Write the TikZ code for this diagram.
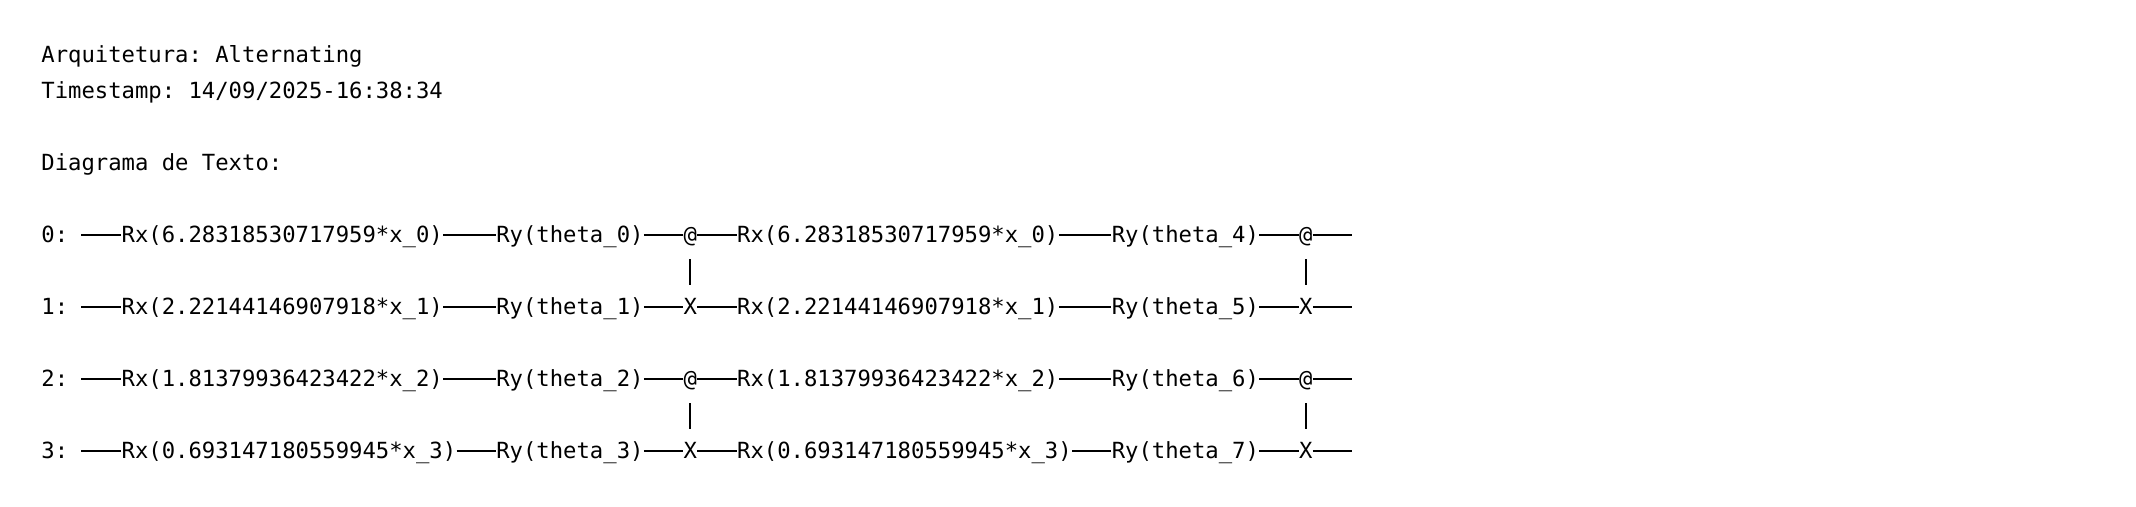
\documentclass[tikz,border=0pt]{standalone}
\usepackage{fontspec}
\setmonofont{DejaVu Sans Mono}
\tikzset{
  gatetext/.style={anchor=west, inner sep=0pt, text height=10.2pt, text depth=2.3pt, font=\ttfamily\fontsize{11.115}{13}\selectfont, text=black},
  wire/.style={line width=0.75pt, black},
  ctrlwire/.style={line width=0.85pt, black, shorten >=4.5pt, shorten <=5.7pt}
}
\begin{document}
\begin{tikzpicture}[x=6.69pt, y=-18pt]
            \useasboundingbox (-3.064, -1.53) rectangle (156.58, 12.553);

            % header lines
            \node[gatetext] (arch) at (0, 0) {Arquitetura: Alternating};
            \node[gatetext] (stamp) at (0, 1) {Timestamp: 14/09/2025-16:38:34};
            \node[gatetext] (title) at (0, 3) {Diagrama de Texto:};

            % qubit 0
            \node[gatetext] (q0) at (0, 5) {0:}; \coordinate (in0) at (3, 5);
            \node[gatetext] (rxa0) at (6, 5) {Rx(6.28318530717959*x\_0)};
            \node[gatetext] (rya0) at (34, 5) {Ry(theta\_0)};
            \node[gatetext] (cza0) at (48, 5) {@};
            \node[gatetext] (rxb0) at (52, 5) {Rx(6.28318530717959*x\_0)};
            \node[gatetext] (ryb0) at (80, 5) {Ry(theta\_4)};
            \node[gatetext] (czb0) at (94, 5) {@}; \coordinate (out0) at (98, 5);

            % qubit 1
            \node[gatetext] (q1) at (0, 7) {1:}; \coordinate (in1) at (3, 7);
            \node[gatetext] (rxa1) at (6, 7) {Rx(2.22144146907918*x\_1)};
            \node[gatetext] (rya1) at (34, 7) {Ry(theta\_1)};
            \node[gatetext] (cza1) at (48, 7) {X};
            \node[gatetext] (rxb1) at (52, 7) {Rx(2.22144146907918*x\_1)};
            \node[gatetext] (ryb1) at (80, 7) {Ry(theta\_5)};
            \node[gatetext] (czb1) at (94, 7) {X}; \coordinate (out1) at (98, 7);

            % qubit 2
            \node[gatetext] (q2) at (0, 9) {2:}; \coordinate (in2) at (3, 9);
            \node[gatetext] (rxa2) at (6, 9) {Rx(1.81379936423422*x\_2)};
            \node[gatetext] (rya2) at (34, 9) {Ry(theta\_2)};
            \node[gatetext] (cza2) at (48, 9) {@};
            \node[gatetext] (rxb2) at (52, 9) {Rx(1.81379936423422*x\_2)};
            \node[gatetext] (ryb2) at (80, 9) {Ry(theta\_6)};
            \node[gatetext] (czb2) at (94, 9) {@}; \coordinate (out2) at (98, 9);

            % qubit 3
            \node[gatetext] (q3) at (0, 11) {3:}; \coordinate (in3) at (3, 11);
            \node[gatetext] (rxa3) at (6, 11) {Rx(0.693147180559945*x\_3)};
            \node[gatetext] (rya3) at (34, 11) {Ry(theta\_3)};
            \node[gatetext] (cza3) at (48, 11) {X};
            \node[gatetext] (rxb3) at (52, 11) {Rx(0.693147180559945*x\_3)};
            \node[gatetext] (ryb3) at (80, 11) {Ry(theta\_7)};
            \node[gatetext] (czb3) at (94, 11) {X}; \coordinate (out3) at (98, 11);

            % wires
            \draw[wire] (in0) -- (rxa0); \draw[wire] (rxa0) -- (rya0);
            \draw[wire] (rya0) -- (cza0); \draw[wire] (cza0) -- (rxb0);
            \draw[wire] (rxb0) -- (ryb0); \draw[wire] (ryb0) -- (czb0);
            \draw[wire] (czb0) -- (out0);
            \draw[wire] (in1) -- (rxa1); \draw[wire] (rxa1) -- (rya1);
            \draw[wire] (rya1) -- (cza1); \draw[wire] (cza1) -- (rxb1);
            \draw[wire] (rxb1) -- (ryb1); \draw[wire] (ryb1) -- (czb1);
            \draw[wire] (czb1) -- (out1);
            \draw[wire] (in2) -- (rxa2); \draw[wire] (rxa2) -- (rya2);
            \draw[wire] (rya2) -- (cza2); \draw[wire] (cza2) -- (rxb2);
            \draw[wire] (rxb2) -- (ryb2); \draw[wire] (ryb2) -- (czb2);
            \draw[wire] (czb2) -- (out2);
            \draw[wire] (in3) -- (rxa3); \draw[wire] (rxa3) -- (rya3);
            \draw[wire] (rya3) -- (cza3); \draw[wire] (cza3) -- (rxb3);
            \draw[wire] (rxb3) -- (ryb3); \draw[wire] (ryb3) -- (czb3);
            \draw[wire] (czb3) -- (out3);

            % vertical links
            \draw[ctrlwire] (cza0) -- (cza1); \draw[ctrlwire] (czb0) -- (czb1);
            \draw[ctrlwire] (cza2) -- (cza3); \draw[ctrlwire] (czb2) -- (czb3);

        \end{tikzpicture}
\end{document}
